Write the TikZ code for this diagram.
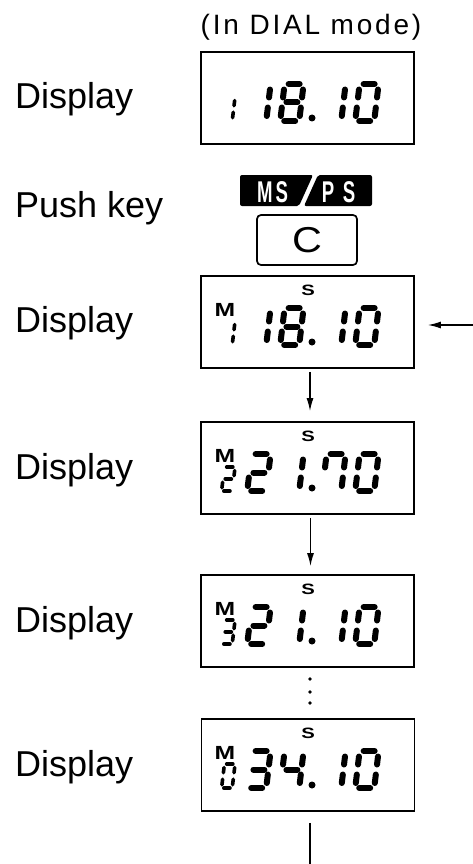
\documentclass[tikz,border=0pt]{standalone}
\usepackage{fontspec}
\setmainfont{Liberation Sans}
\usetikzlibrary{arrows.meta}

% LCD segments, local frame: origin top left, y down, digit 25 x 43
\newcommand{\segA}{\draw[lcdseg] (7,3) -- (18,3);}
\newcommand{\segB}{\draw[lcdseg] (22,8.5) -- (22,16.5);}
\newcommand{\segC}{\draw[lcdseg] (22,26.5) -- (22,35);}
\newcommand{\segD}{\draw[lcdseg] (7,40) -- (18,40);}
\newcommand{\segE}{\draw[lcdseg] (3,26.5) -- (3,35);}
\newcommand{\segF}{\draw[lcdseg] (3,8.5) -- (3,16.5);}
\newcommand{\segG}{\draw[lcdseg] (7,21.5) -- (18,21.5);}

\newcommand{\lcdzero}{\segA\segB\segC\segD\segE\segF}
\newcommand{\lcdone}{\segB\segC}
\newcommand{\lcdtwo}{\segA\segB\segG\segE\segD}
\newcommand{\lcdthree}{\segA\segB\segG\segC\segD}
\newcommand{\lcdfour}{\segF\segG\segB\segC}
\newcommand{\lcdseven}{\segF\segA\segB\segC}
\newcommand{\lcdeight}{\segA\segB\segC\segD\segE\segF\segG}

\newcommand{\lcddigit}[4][bigdigit]{%
  \begin{scope}[shift={(#2,#3)},#1] #4 \end{scope}}

% one display: #1 top of box, #2 memory digit, #3-#6 main digits
\newcommand{\lcdpanel}[6]{%
  \lcddigit[smalldigit]{223}{#1+43}{#2}
  \lcddigit{249}{#1+29}{#3}
  \lcddigit{282}{#1+29}{#4}
  \fill (312,#1+66) circle (3.5);
  \lcddigit{324}{#1+29}{#5}
  \lcddigit{357}{#1+29}{#6}}

\begin{document}
\begin{tikzpicture}[x=1pt, y=-1pt, >={Latex[length=13pt,width=7pt]},
    lcdseg/.style={line width=6pt, line cap=round},
    bigdigit/.style={xslant=0.12},
    smalldigit/.style={xslant=0.12, xscale=0.56, yscale=0.65,
      lcdseg/.append style={line width=3.6pt}},
    lcdbox/.style={draw, line width=1.7pt, minimum width=213pt,
      minimum height=92pt, inner sep=0pt},
    rowlbl/.style={anchor=base west, inner sep=0pt,
      font=\fontsize{36}{40}\selectfont},
    keytxt/.style={text=white, inner sep=0pt, transform shape, xscale=0.62,
      font=\bfseries\fontsize{30}{30}\selectfont},
    memlbl/.style={inner sep=0pt, transform shape, xscale=1.3,
      font=\bfseries\fontsize{19}{19}\selectfont},
    seclbl/.style={inner sep=0pt, transform shape, xscale=1.35,
      font=\bfseries\fontsize{15}{15}\selectfont},
    flow/.style={line width=1.4pt}]
  \useasboundingbox (0,0) rectangle (473,864);

  % Title
  \node[anchor=base, inner sep=0pt,
        font=\fontsize{28}{30}\selectfont\addfontfeature{LetterSpace=10}]
    (mode) at (311,35) {(In DIAL mode)};

  % Row labels
  \node[rowlbl] (lbl1) at (15,109) {Display};
  \node[rowlbl] (lblkey) at (15,217) {Push key};
  \node[rowlbl] (lbl2) at (15,332) {Display};
  \node[rowlbl] (lbl3) at (15,479) {Display};
  \node[rowlbl] (lbl4) at (15,632) {Display};
  \node[rowlbl] (lbl5) at (15,776) {Display};

  % Display frames
  \node[lcdbox] (disp1) at (307.5,98) {};
  \node[lcdbox] (disp2) at (307.5,322) {};
  \node[lcdbox] (disp3) at (307.5,468) {};
  \node[lcdbox] (disp4) at (307.5,621) {};
  \node[lcdbox] (disp5) at (308,765) {};

  % Readouts
  \lcdpanel{52}{\lcdone}{\lcdone}{\lcdeight}{\lcdone}{\lcdzero}
  \lcdpanel{276}{\lcdone}{\lcdone}{\lcdeight}{\lcdone}{\lcdzero}
  \lcdpanel{422}{\lcdtwo}{\lcdtwo}{\lcdone}{\lcdseven}{\lcdzero}
  \lcdpanel{575}{\lcdthree}{\lcdtwo}{\lcdone}{\lcdone}{\lcdzero}
  \lcdpanel{719}{\lcdzero}{\lcdthree}{\lcdfour}{\lcdone}{\lcdzero}
  \foreach \t/\n in {276/2,422/3,575/4,719/5} {
    \node[seclbl] (sec\n) at (308,\t+14) {S};
    \node[memlbl] (mem\n) at (225,\t+34) {M};
  }

  % Key legend and key
  \fill[rounded corners=2pt] (240,175) -- (313,175) -- (299,206)
    -- (240,206) -- cycle;
  \fill[rounded corners=2pt] (318,175) -- (372,175) -- (372,206)
    -- (304,206) -- cycle;
  \node[keytxt] (ms) at (272.5,192) {M\hspace{5pt}S};
  \node[keytxt] (ps) at (338.5,192) {P\hspace{14pt}S};
  \node[draw, line width=1.7pt, rounded corners=4pt, minimum width=100pt,
        minimum height=50pt, font=\fontsize{36}{36}\selectfont]
    (ckey) at (307,240) {\scalebox{1.15}[1]{C}};

  % Arrows
  \coordinate (entry) at (473,325);
  \coordinate (exit) at (310,864);
  \draw[->, flow, shorten >=13pt] (entry) -- (entry -| disp2.east);
  \draw[->, flow, shorten <=3pt, shorten >=10pt]
    ([xshift=2.5pt]disp2.south) -- ([xshift=2.5pt]disp3.north);
  \draw[->, flow, shorten <=3pt, shorten >=8pt]
    ([xshift=3pt]disp3.south) -- ([xshift=3pt]disp4.north);
  \foreach \y in {679,692,703}
    \fill (310,\y) circle (1.8);
  \draw[flow, shorten <=11pt] ([xshift=2pt]disp5.south) -- (exit);
\end{tikzpicture}
\end{document}
